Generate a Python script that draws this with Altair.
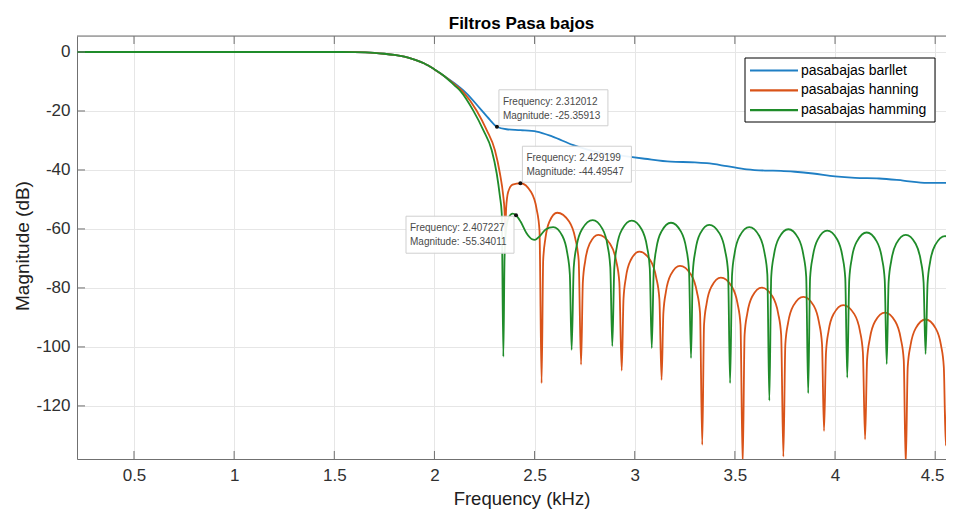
import altair as alt
import pandas as pd

# ---------------- data ----------------
series_names = ["pasabajas barllet", "pasabajas hanning", "pasabajas hamming"]
series_colors = ["#1f7fc4", "#D95319", "#1f8c2a"]

# common passband (all three filters overlap here)
pass_f = [0.2155, 0.5, 1.0, 1.5, 1.6, 1.7, 1.75, 1.8, 1.85, 1.9, 1.95, 2.0, 2.05]
pass_db = [0, 0, 0, 0, -0.05, -0.3, -0.6, -1.0, -1.6, -2.6, -3.9, -5.9, -8.2]

barlett_f = [2.1, 2.16, 2.227, 2.277, 2.312, 2.36, 2.43, 2.51, 2.59, 2.69, 2.76,
             2.84, 2.95, 3.05, 3.18, 3.3, 3.36, 3.46, 3.56, 3.65, 3.73, 3.80,
             3.89, 4.0, 4.1, 4.22, 4.34, 4.46, 4.6]
barlett_db = [-10.6, -14, -19.1, -23, -25.36, -26.2, -26.5, -27, -28.7, -31.5, -33.0,
              -34.3, -35.3, -36.2, -37.2, -37.4, -37.7, -38.7, -39.8, -40.2, -40.3, -40.6,
              -41.2, -42.2, -42.7, -42.9, -43.6, -44.4, -44.4]

hanning_f = [2.1, 2.144, 2.211, 2.261, 2.302, 2.327, 2.343, 2.35, 2.354,
             2.358, 2.368, 2.39, 2.43, 2.4825, 2.510, 2.5245, 2.535,
             2.543, 2.554, 2.574, 2.613, 2.6725, 2.703, 2.720, 2.732,
             2.741, 2.753, 2.775, 2.818, 2.8765, 2.907, 2.923, 2.935,
             2.944, 2.956, 2.979, 3.023, 3.0785, 3.107, 3.123, 3.134,
             3.143, 3.156, 3.180, 3.226, 3.2815, 3.310, 3.326, 3.337,
             3.346, 3.359, 3.3835, 3.430, 3.4845, 3.513, 3.528, 3.539,
             3.5485, 3.562, 3.5865, 3.634, 3.688, 3.716, 3.731, 3.742,
             3.752, 3.766, 3.792, 3.842, 3.8935, 3.920, 3.935, 3.945,
             3.955, 3.968, 3.993, 4.041, 4.0955, 4.124, 4.139, 4.150,
             4.160, 4.174, 4.1995, 4.249, 4.301, 4.328, 4.343, 4.353,
             4.363, 4.377, 4.4025, 4.452, 4.5025, 4.529, 4.543, 4.553,
             4.563, 4.577, 4.600]
hanning_db = [-10.9, -13.6, -19.9, -26.5, -33.3, -41.2, -48.5, -54, -62,
              -53, -47.5, -45, -44.5, -47.5, -53.2, -60.5, -112.3,
              -70.5, -63.2, -57.5, -54.5, -57.5, -63.2, -70.5, -106,
              -78, -70.7, -65, -62, -65, -70.7, -78, -108,
              -83.7, -76.4, -70.7, -67.7, -70.7, -76.4, -83.7, -111.2,
              -88.5, -81.2, -75.5, -72.5, -75.5, -81.2, -88.5, -133.2,
              -92.5, -85.2, -79.5, -76.5, -79.5, -85.2, -92.5, -140,
              -95.9, -88.6, -82.9, -79.9, -82.9, -88.6, -95.9, -137.2,
              -99, -91.7, -86, -83, -86, -91.7, -99, -128.5,
              -101.8, -94.5, -88.8, -85.8, -88.8, -94.5, -101.8, -131.3,
              -104.4, -97.1, -91.4, -88.4, -91.4, -97.1, -104.4, -140,
              -106.7, -99.4, -93.7, -90.7, -93.7, -99.4, -106.7, -133.4,
              -109, -101.5, -96.5]

hamming_f = [2.1, 2.128, 2.194, 2.244, 2.286, 2.311, 2.327, 2.336, 2.344,
             2.350, 2.358, 2.372, 2.39, 2.407, 2.43, 2.46, 2.485, 2.502,
             2.525, 2.555, 2.593, 2.639, 2.663, 2.676, 2.685,
             2.6955, 2.710, 2.7375, 2.790, 2.839, 2.8645, 2.878, 2.888,
             2.898, 2.911, 2.9365, 2.985, 3.035, 3.061, 3.075, 3.085,
             3.095, 3.108, 3.133, 3.181, 3.231, 3.257, 3.271, 3.281,
             3.290, 3.303, 3.3265, 3.372, 3.424, 3.451, 3.466, 3.476,
             3.486, 3.499, 3.524, 3.572, 3.622, 3.648, 3.662, 3.672,
             3.6815, 3.695, 3.7195, 3.767, 3.8165, 3.842, 3.856, 3.866,
             3.8755, 3.889, 3.9135, 3.961, 4.011, 4.037, 4.051, 4.061,
             4.071, 4.084, 4.1095, 4.158, 4.208, 4.234, 4.248, 4.258,
             4.2675, 4.281, 4.3055, 4.353, 4.4025, 4.428, 4.442, 4.452,
             4.462, 4.475, 4.5005, 4.549, 4.600]
hamming_db = [-11.3, -13.1, -19.9, -26.5, -33.3, -41.2, -49, -54.7, -103.3,
              -70, -60, -56, -54.8, -55.34, -57.5, -61.5, -63.4, -63.7,
              -62.5, -60.2, -59.4, -62.4, -68.1, -75.4, -101,
              -73, -65.7, -60, -57, -60, -65.7, -73, -99.7,
              -73.2, -65.9, -60.2, -57.2, -60.2, -65.9, -73.2, -100.4,
              -73.9, -66.6, -60.9, -57.9, -60.9, -66.6, -73.9, -103.8,
              -74.6, -67.3, -61.6, -58.6, -61.6, -67.3, -74.6, -112.3,
              -75.4, -68.1, -62.4, -59.4, -62.4, -68.1, -75.4, -118.2,
              -76.1, -68.8, -63.1, -60.1, -63.1, -68.8, -76.1, -115.7,
              -76.6, -69.3, -63.6, -60.6, -63.6, -69.3, -76.6, -110.4,
              -77.2, -69.9, -64.2, -61.2, -64.2, -69.9, -77.2, -105.8,
              -78, -70.7, -65, -62, -65, -70.7, -78, -102.4,
              -78.4, -71.1, -65.4, -62.4, -65.4]

# data tips
tip_f = [2.312012, 2.429199, 2.407227]
tip_db = [-25.35913, -44.49547, -55.34011]
tip_line1 = ["Frequency: 2.312012", "Frequency: 2.429199", "Frequency: 2.407227"]
tip_line2 = ["Magnitude: -25.35913", "Magnitude: -44.49547", "Magnitude: -55.34011"]

x_ticks = [0.5, 1, 1.5, 2, 2.5, 3, 3.5, 4, 4.5]
y_ticks = [-120, -100, -80, -60, -40, -20, 0]
x_domain = [0.2155, 4.554]
y_domain = [-138, 5.42]

# ---------------- build tables ----------------
rows = []
for name, fs, ds in [(series_names[0], barlett_f, barlett_db),
                     (series_names[1], hanning_f, hanning_db),
                     (series_names[2], hamming_f, hamming_db)]:
    for f, d in zip(pass_f + fs, pass_db + ds):
        rows.append({"series": name, "f": f, "db": d})
lines_df = pd.DataFrame(rows)
tips_df = pd.DataFrame({"f": tip_f, "db": tip_db, "l1": tip_line1, "l2": tip_line2})
xt_df = pd.DataFrame({"t": x_ticks})
yt_df = pd.DataFrame({"t": y_ticks})

W, H = 869, 423
FONT = "Liberation Sans"
AX = "#707070"

xs = alt.Scale(domain=x_domain, nice=False, zero=False)
ys = alt.Scale(domain=y_domain, nice=False, zero=False)
cs = alt.Scale(domain=series_names, range=series_colors)

x_axis = alt.Axis(values=x_ticks, labelExpr="'' + datum.value", tickSize=0, labelPadding=8,
                  labelFontSize=17, labelColor="#303030", labelFont=FONT,
                  labelOffset={"condition": {"test": "datum.value >= 4.5", "value": -3}, "value": 0},
                  domainColor=AX, gridColor="#e6e6e6", title="Frequency (kHz)",
                  titleFontSize=18.5, titleFontWeight="normal", titleFont=FONT, titleColor="#202020",
                  titleX=444.5, titleY=45.5, titleBaseline="alphabetic", titleAlign="center")
y_axis = alt.Axis(values=y_ticks, labelExpr="'' + datum.value", tickSize=0, labelPadding=7,
                  labelFontSize=17, labelColor="#303030", labelFont=FONT,
                  domainColor=AX, gridColor="#e6e6e6", title="Magnitude (dB)",
                  titleFontSize=19, titleFontWeight="normal", titleFont=FONT, titleColor="#202020",
                  titleX=-55, titleY=209.5, titleAngle=270, titleBaseline="middle", titleAlign="center")

layers = []
for i, name in enumerate(series_names):
    enc = dict(
        x=alt.X("f:Q", scale=xs, axis=x_axis),
        y=alt.Y("db:Q", scale=ys, axis=y_axis),
        color=alt.Color("series:N", scale=cs, legend=None),
        order=alt.Order("f:Q"),
    )
    layers.append(
        alt.Chart(lines_df).transform_filter(alt.datum.series == name)
        .mark_line(strokeWidth=1.8, interpolate="monotone", clip=True)
        .encode(**enc)
    )

# inner ticks and top border
tick_len = 8
layers.append(alt.Chart(xt_df).mark_rule(color=AX, strokeWidth=1).encode(
    x=alt.X("t:Q", scale=xs, axis=x_axis), y=alt.value(H), y2=alt.value(H - tick_len)))
layers.append(alt.Chart(xt_df).mark_rule(color=AX, strokeWidth=1).encode(
    x=alt.X("t:Q", scale=xs, axis=x_axis), y=alt.value(0), y2=alt.value(tick_len)))
layers.append(alt.Chart(yt_df).mark_rule(color=AX, strokeWidth=1).encode(
    y=alt.Y("t:Q", scale=ys, axis=y_axis), x=alt.value(0), x2=alt.value(tick_len)))
layers.append(alt.Chart(xt_df.head(1)).mark_rule(color=AX, strokeWidth=1).encode(
    x=alt.value(0), x2=alt.value(W), y=alt.value(0)))

# data tips: boxes, texts, markers
box_off = [(2, 111, -37, -1), (2, 111, -37, -1), (-110, -2, 1, 38)]
txt_off = [(6, -25, -11), (6, -25, -11), (-106, 13, 26.5)]
for i in range(3):
    one = tips_df.iloc[[i]]
    xo, x2o, yo, y2o = box_off[i]
    layers.append(alt.Chart(one).mark_rect(
        fill="#ffffff", fillOpacity=0.92, stroke="#cfcfcf", strokeWidth=1,
        xOffset=xo, x2Offset=x2o, yOffset=yo, y2Offset=y2o).encode(
        x=alt.X("f:Q", scale=xs, axis=x_axis), x2="f:Q",
        y=alt.Y("db:Q", scale=ys, axis=y_axis), y2="db:Q"))
    dx, dy1, dy2 = txt_off[i]
    for fld, dy in (("l1", dy1), ("l2", dy2)):
        layers.append(alt.Chart(one).mark_text(
            align="left", baseline="middle", dx=dx, dy=dy, fontSize=10, font=FONT,
            color="#4a4a4a").encode(
            x=alt.X("f:Q", scale=xs, axis=x_axis), y=alt.Y("db:Q", scale=ys, axis=y_axis),
            text=f"{fld}:N"))
layers.append(alt.Chart(tips_df).mark_point(filled=True, size=16, color="#111111", opacity=1).encode(
    x=alt.X("f:Q", scale=xs, axis=x_axis), y=alt.Y("db:Q", scale=ys, axis=y_axis)))

# legend box (MATLAB style, upper right inside the axes)
LX, LY, LW, LH = 668, 22, 190, 64
layers.append(alt.Chart(xt_df.head(1)).mark_rect(fill="#ffffff", stroke="#000000", strokeWidth=1).encode(
    x=alt.value(LX), x2=alt.value(LX + LW), y=alt.value(LY), y2=alt.value(LY + LH)))
for i, name in enumerate(series_names):
    yy = LY + 12.5 + 19.8 * i
    layers.append(alt.Chart(xt_df.head(1)).mark_rule(color=series_colors[i], strokeWidth=2.2).encode(
        x=alt.value(LX + 5), x2=alt.value(LX + 53), y=alt.value(yy)))
    layers.append(alt.Chart(xt_df.head(1)).mark_text(
        text=name, align="left", baseline="middle", fontSize=14, font=FONT, color="#000000").encode(
        x=alt.value(LX + 56), y=alt.value(yy)))

chart = alt.layer(*layers).properties(
    width=W, height=H,
    title=alt.TitleParams("Filtros Pasa bajos", fontSize=17, fontWeight="bold", font=FONT,
                          color="#000000", anchor="middle", dx=10, dy=20, offset=6,
                          baseline="bottom", frame="group"),
    padding={"left": 69, "top": 28, "right": 0, "bottom": 50},
    autosize=alt.AutoSizeParams(type="none"),
).configure_view(stroke=None).configure(font=FONT, background="#ffffff")

chart.save("out.html", embed_options={"renderer": "svg", "actions": False})
